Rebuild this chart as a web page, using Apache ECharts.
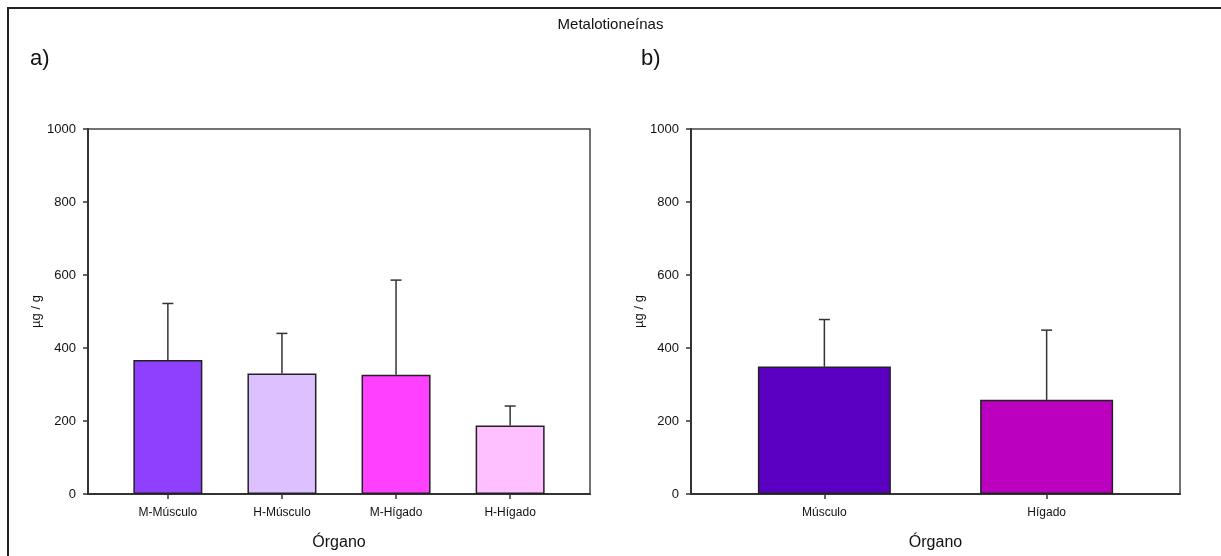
<!DOCTYPE html>
<html>
<head>
<meta charset="utf-8">
<title>Metalotioneínas</title>
<script src="https://cdn.jsdelivr.net/npm/echarts@6/dist/echarts.min.js"></script>
<style>
    html, body { margin: 0; padding: 0; background: #fff; }
    #main { width: 1221px; height: 556px; }
</style>
</head>
<body>
<div id="main"></div>
<script>
// datos panel a (por sexo y organo)
var catsA = ['M-Músculo', 'H-Músculo', 'M-Hígado', 'H-Hígado'];
var meanA = [367, 330, 327, 188];
var sdA = [155, 110, 259, 53];
var colorA = ['#8f40ff', '#ddc0ff', '#ff40ff', '#ffc0ff'];

// datos panel b (organo)
var catsB = ['Músculo', 'Hígado'];
var meanB = [349, 258];
var sdB = [129, 191];
var colorB = ['#5b00c2', '#bb00bf'];

// eje y
var yTicks = [0, 200, 400, 600, 800, 1000];

var FONT = 'Arial, "Liberation Sans", sans-serif';

class Grafica {
    constructor() {
        this.myChart = echarts.init(document.getElementById('main'));
        this.renderDom();
    }

    // eje x numerico, etiquetas solo en 1..n
    xAxis(idx, cats, min, max) {
        var pos = cats.map(function (c, i) { return i + 1; });
        return {
            gridIndex: idx,
            type: 'value',
            min: min,
            max: max,
            name: 'Órgano',
            nameLocation: 'middle',
            nameGap: 41,
            nameTextStyle: { fontFamily: FONT, fontSize: 16, color: '#111' },
            axisLine: { show: true, lineStyle: { color: '#333', width: 2 } },
            axisTick: { show: true, length: 5, customValues: pos, lineStyle: { color: '#333', width: 1.5 } },
            axisLabel: {
                customValues: pos,
                margin: 13,
                fontFamily: FONT,
                fontSize: 12,
                color: '#111',
                formatter: function (v) { return cats[Math.round(v) - 1]; }
            },
            splitLine: { show: false }
        };
    }

    yAxis(idx) {
        return {
            gridIndex: idx,
            type: 'value',
            min: 0,
            max: 1000,
            interval: 200,
            name: 'µg / g',
            nameLocation: 'middle',
            nameRotate: 90,
            nameGap: 39,
            nameTextStyle: { fontFamily: FONT, fontSize: 13, color: '#111' },
            axisLine: { show: true, lineStyle: { color: '#333', width: 2 } },
            axisTick: { show: true, length: 5, lineStyle: { color: '#333', width: 1.5 } },
            axisLabel: {
                margin: 12,
                fontFamily: FONT,
                fontSize: 13,
                color: '#111',
                formatter: function (v) { return yTicks.indexOf(v) >= 0 ? String(v) : ''; }
            },
            splitLine: { show: false }
        };
    }

    // barras con su color
    barSerie(idx, mean, colors, width) {
        return {
            type: 'bar',
            xAxisIndex: idx,
            yAxisIndex: idx,
            barWidth: width,
            data: mean.map(function (v, i) {
                return {
                    value: [i + 1, v],
                    itemStyle: { color: colors[i], borderColor: '#222', borderWidth: 1.5 }
                };
            }),
            z: 2
        };
    }

    // error solo hacia arriba
    errSerie(idx, mean, sd) {
        return {
            type: 'custom',
            xAxisIndex: idx,
            yAxisIndex: idx,
            data: mean.map(function (v, i) { return [i + 1, v, v + sd[i]]; }),
            renderItem: function (params, api) {
                var base = api.coord([api.value(0), api.value(1)]);
                var top = api.coord([api.value(0), api.value(2)]);
                var st = { stroke: '#333', lineWidth: 1.5 };
                return {
                    type: 'group',
                    children: [
                        { type: 'line', shape: { x1: base[0], y1: base[1], x2: top[0], y2: top[1] }, style: st },
                        { type: 'line', shape: { x1: top[0] - 5.5, y1: top[1], x2: top[0] + 5.5, y2: top[1] }, style: st }
                    ]
                };
            },
            z: 1
        };
    }

    renderDom() {
        this.option = {
            backgroundColor: '#fff',
            animation: false,
            title: [
                { text: 'Metalotioneínas', left: 'center', top: 12, textStyle: { fontFamily: FONT, fontSize: 15, fontWeight: 'normal', color: '#111' } },
                { text: 'a)', left: 25, top: 43, textStyle: { fontFamily: FONT, fontSize: 22, fontWeight: 'normal', color: '#111' } },
                { text: 'b)', left: 636, top: 43, textStyle: { fontFamily: FONT, fontSize: 22, fontWeight: 'normal', color: '#111' } }
            ],
            graphic: [
                // marco exterior
                { type: 'rect', shape: { x: 8, y: 8, width: 1240, height: 580 }, style: { fill: null, stroke: '#222', lineWidth: 2 }, silent: true }
            ],
            grid: [
                { left: 88, right: 631, top: 129, bottom: 62, show: true, borderColor: '#444', borderWidth: 1.5 },
                { left: 691, right: 41, top: 129, bottom: 62, show: true, borderColor: '#444', borderWidth: 1.5 }
            ],
            xAxis: [
                this.xAxis(0, catsA, 0.3, 4.7),
                this.xAxis(1, catsB, 0.4, 2.6)
            ],
            yAxis: [this.yAxis(0), this.yAxis(1)],
            series: [
                this.barSerie(0, meanA, colorA, 69),
                this.errSerie(0, meanA, sdA),
                this.barSerie(1, meanB, colorB, 133),
                this.errSerie(1, meanB, sdB)
            ]
        };
        this.myChart.setOption(this.option);
    }
}

new Grafica();
</script>
</body>
</html>
